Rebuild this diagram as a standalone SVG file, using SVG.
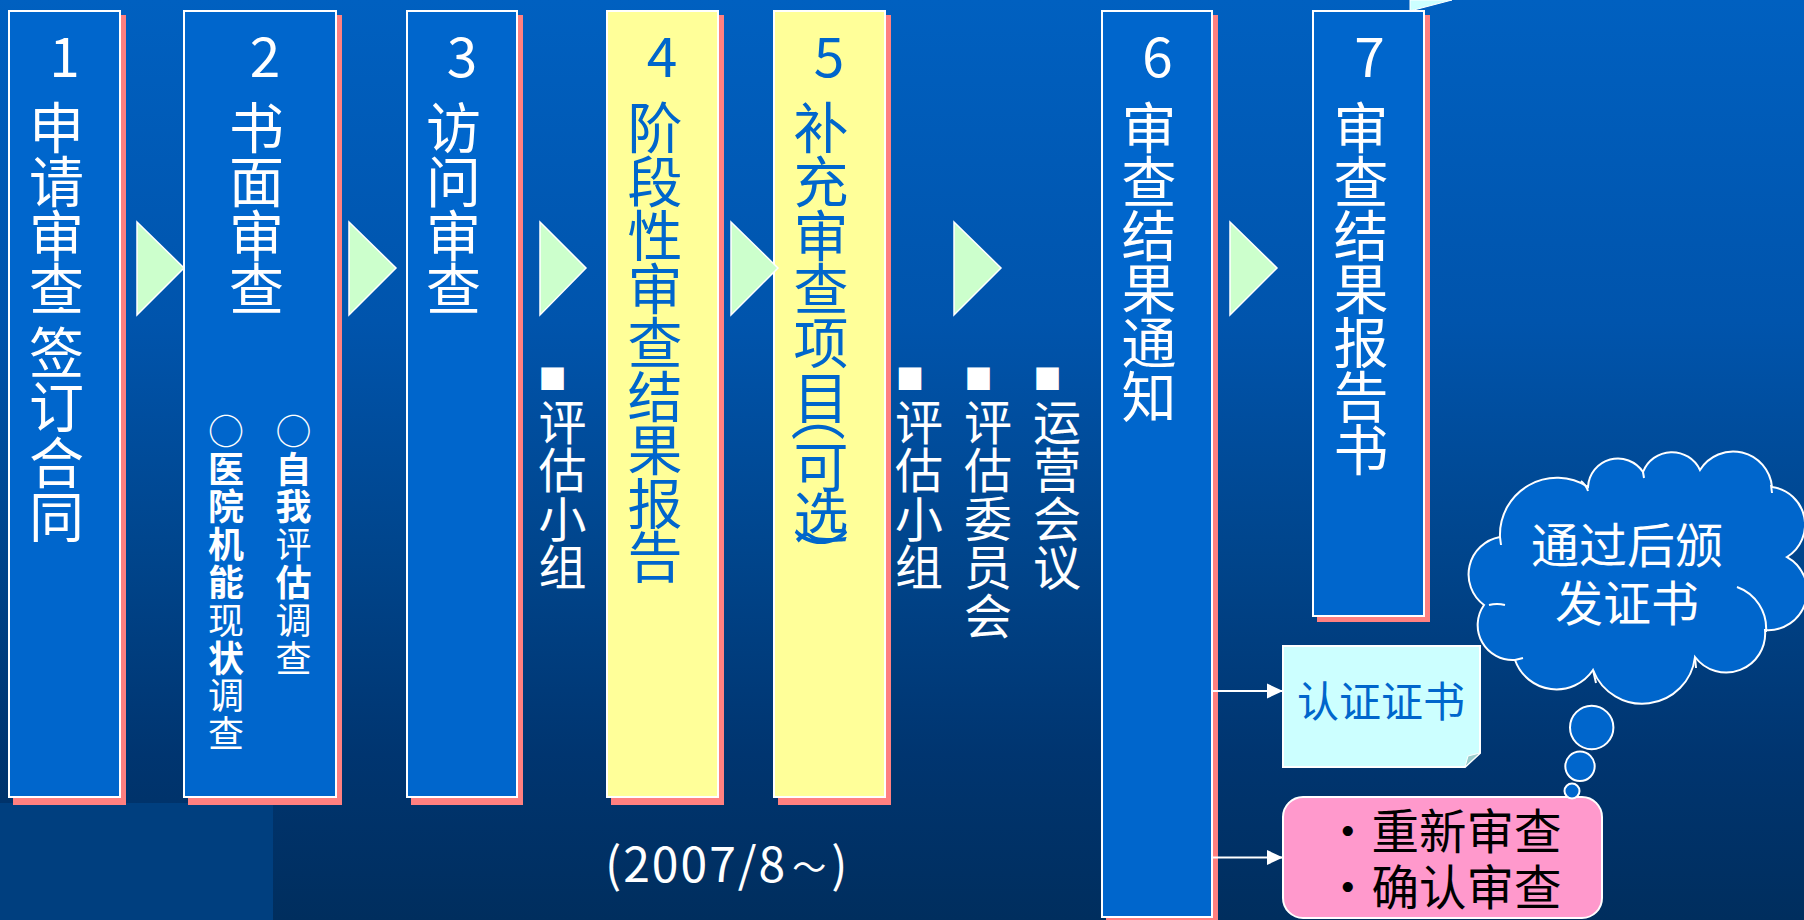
<svg xmlns="http://www.w3.org/2000/svg" width="1804" height="920" viewBox="0 0 1804 920">
<defs>
<linearGradient id="bg" x1="0" y1="0" x2="0" y2="1">
<stop offset="0" stop-color="#0060C0"/>
<stop offset="0.35" stop-color="#0054AC"/>
<stop offset="0.6" stop-color="#00458C"/>
<stop offset="0.82" stop-color="#003570"/>
<stop offset="1" stop-color="#002E5E"/>
</linearGradient>
<marker id="ah" markerWidth="16" markerHeight="16" refX="15" refY="8" orient="auto" markerUnits="userSpaceOnUse">
<path d="M0,0.5 L16,8 L0,15.5 z" fill="#FFFFFF"/>
</marker>
<style>
.box{fill:#0066CC;stroke:#FFFFFF;stroke-width:2}
.ybox{fill:#FFFF99;stroke:#FFFFFF;stroke-width:2}
.sh{fill:#FF8080}
.tri{fill:#CCFFCC;stroke:#FFFFFF;stroke-width:1.5}
text{font-family:"Noto Sans CJK SC","Noto Sans",sans-serif}
.w{fill:#FFFFFF}
.bl{fill:#0066CC}
.k{fill:#000000}
.big{font-size:55px;text-anchor:middle}
.mid{font-size:48px;text-anchor:middle}
.sm{font-size:36px;text-anchor:middle}
.sq{font-size:28px}
.bd{font-weight:700}
.conn{stroke:#FFFFFF;stroke-width:2;fill:none}
.cl{fill:#0066CC;stroke:#FFFFFF;stroke-width:2}
.cli{fill:none;stroke:#FFFFFF;stroke-width:2}
</style>
</defs>

<rect x="0" y="0" width="1804" height="920" fill="url(#bg)"/>
<rect x="0" y="803" width="273" height="117" fill="#003F7F"/>
<polygon points="1410,0 1410,11 1452,0" fill="#CCFFFF" stroke="#FFFFFF" stroke-width="1"/>

<g id="n1">
<rect class="sh" x="13" y="15" width="113" height="790"/>
<rect class="box" x="9" y="11" width="111" height="786"/>
<text class="w big"><tspan x="64.5" y="77">1</tspan></text>
<text class="w big"><tspan x="56.5" y="148">申</tspan><tspan x="56.5" y="202">请</tspan><tspan x="56.5" y="255.5">审</tspan><tspan x="56.5" y="309">查</tspan><tspan x="56.5" y="373">签</tspan><tspan x="56.5" y="426.5">订</tspan><tspan x="56.5" y="483">合</tspan><tspan x="56.5" y="536.5">同</tspan></text>
<text class="w" x="61" y="318" font-size="24" text-anchor="middle">·</text>
</g>

<g id="n2">
<rect class="sh" x="188" y="15" width="154" height="790"/>
<rect class="box" x="184" y="11" width="152" height="786"/>
<text class="w big"><tspan x="265" y="77">2</tspan></text>
<text class="w big"><tspan x="256.5" y="148">书</tspan><tspan x="256.5" y="202">面</tspan><tspan x="256.5" y="255.5">审</tspan><tspan x="256.5" y="309">查</tspan></text>
<text class="w sm"><tspan x="226" y="444.7">○</tspan><tspan class="bd" x="226" y="482.5">医</tspan><tspan class="bd" x="226" y="520.3">院</tspan><tspan class="bd" x="226" y="558.1">机</tspan><tspan class="bd" x="226" y="595.9">能</tspan><tspan x="226" y="633.7">现</tspan><tspan class="bd" x="226" y="671.5">状</tspan><tspan x="226" y="709.3">调</tspan><tspan x="226" y="747.1">查</tspan></text>
<text class="w sm"><tspan x="293.5" y="444.7">○</tspan><tspan class="bd" x="293.5" y="482.5">自</tspan><tspan class="bd" x="293.5" y="520.3">我</tspan><tspan x="293.5" y="558.1">评</tspan><tspan class="bd" x="293.5" y="595.9">估</tspan><tspan x="293.5" y="633.7">调</tspan><tspan x="293.5" y="671.5">查</tspan></text>
</g>

<g id="n3">
<rect class="sh" x="411" y="15" width="112" height="790"/>
<rect class="box" x="407" y="11" width="110" height="786"/>
<text class="w big"><tspan x="462" y="77">3</tspan></text>
<text class="w big"><tspan x="453.5" y="148">访</tspan><tspan x="453.5" y="202">问</tspan><tspan x="453.5" y="255.5">审</tspan><tspan x="453.5" y="309">查</tspan></text>
</g>

<g id="label-eval-group-1">
<text class="w sq" x="538.5" y="390">■</text>
<text class="w mid"><tspan x="562.5" y="440">评</tspan><tspan x="562.5" y="488">估</tspan><tspan x="562.5" y="537">小</tspan><tspan x="562.5" y="585">组</tspan></text>
</g>

<g id="n4">
<rect class="sh" x="611" y="15" width="113" height="790"/>
<rect class="ybox" x="607" y="11" width="111" height="786"/>
<text class="bl big"><tspan x="662" y="77">4</tspan></text>
<text class="bl big"><tspan x="655" y="148">阶</tspan><tspan x="655" y="202">段</tspan><tspan x="655" y="255.5">性</tspan><tspan x="655" y="309">审</tspan><tspan x="655" y="363">查</tspan><tspan x="655" y="416.5">结</tspan><tspan x="655" y="470">果</tspan><tspan x="655" y="523.5">报</tspan><tspan x="655" y="577">告</tspan></text>
</g>

<g id="n5">
<rect class="sh" x="778" y="15" width="113" height="790"/>
<rect class="ybox" x="774" y="11" width="111" height="786"/>
<text class="bl big"><tspan x="829" y="77">5</tspan></text>
<text class="bl big"><tspan x="821" y="148">补</tspan><tspan x="821" y="202">充</tspan><tspan x="821" y="255.5">审</tspan><tspan x="821" y="309">查</tspan><tspan x="821" y="363">项</tspan><tspan x="821" y="418">目</tspan></text>
<text class="bl" font-size="55" text-anchor="middle" dominant-baseline="central" transform="translate(822,414) rotate(90)">（</text>
<text class="bl big"><tspan x="821" y="486.5">可</tspan><tspan x="821" y="536.5">选</tspan><tspan x="821" y="575">︶</tspan></text>
</g>

<g id="label-eval-group-2">
<text class="w sq" x="896" y="390">■</text>
<text class="w mid"><tspan x="919" y="440">评</tspan><tspan x="919" y="488">估</tspan><tspan x="919" y="537">小</tspan><tspan x="919" y="585">组</tspan></text>
</g>
<g id="label-eval-committee">
<text class="w sq" x="964.5" y="390">■</text>
<text class="w mid"><tspan x="988" y="440">评</tspan><tspan x="988" y="488">估</tspan><tspan x="988" y="537">委</tspan><tspan x="988" y="585">员</tspan><tspan x="988" y="634">会</tspan></text>
</g>
<g id="label-operation-meeting">
<text class="w sq" x="1033.5" y="390">■</text>
<text class="w mid"><tspan x="1057" y="440">运</tspan><tspan x="1057" y="488">营</tspan><tspan x="1057" y="537">会</tspan><tspan x="1057" y="585">议</tspan></text>
</g>

<g id="n6">
<rect class="sh" x="1106" y="15" width="112" height="910"/>
<rect class="box" x="1102" y="11" width="110" height="906"/>
<text class="w big"><tspan x="1157.5" y="77">6</tspan></text>
<text class="w big"><tspan x="1149" y="148">审</tspan><tspan x="1149" y="202">查</tspan><tspan x="1149" y="255.5">结</tspan><tspan x="1149" y="309">果</tspan><tspan x="1149" y="363">通</tspan><tspan x="1149" y="416.5">知</tspan></text>
</g>

<g id="n7">
<rect class="sh" x="1317" y="15" width="113" height="607"/>
<rect class="box" x="1313" y="11" width="111" height="605"/>
<text class="w big"><tspan x="1369.5" y="77">7</tspan></text>
<text class="w big"><tspan x="1361" y="148">审</tspan><tspan x="1361" y="202">查</tspan><tspan x="1361" y="255.5">结</tspan><tspan x="1361" y="309">果</tspan><tspan x="1361" y="363">报</tspan><tspan x="1361" y="416.5">告</tspan><tspan x="1361" y="470">书</tspan></text>
</g>

<g id="n-certificate">
<polygon points="1283,646 1480,646 1480,753 1465,767 1283,767" fill="#CCFFFF" stroke="#FFFFFF" stroke-width="2"/>
<polygon points="1480,753 1465,767 1468,756" fill="#99CCCC" stroke="#FFFFFF" stroke-width="1"/>
<text class="bl" x="1381" y="717" font-size="42" text-anchor="middle">认证证书</text>
</g>

<g id="n-review">
<rect x="1283" y="797" width="319" height="121" rx="20" ry="20" fill="#FF99CC" stroke="#FFFFFF" stroke-width="2"/>
<text class="k" font-size="47.5"><tspan x="1324" y="848.5">・重新审查</tspan><tspan x="1324" y="905">・确认审查</tspan></text>
</g>

<g id="n-cloud">
<path class="cl" d="M1500,537 A57,57 0 0 1 1588,487 A30,30 0 0 1 1643,472 A31,31 0 0 1 1700,470 A39,39 0 0 1 1772,487 A38,38 0 0 1 1787,557 A39,39 0 0 1 1765,630 A39,39 0 0 1 1695,657 A53,53 0 0 1 1593,670 A44,44 0 0 1 1515,660 A35,35 0 0 1 1484,605 A38,38 0 0 1 1500,537 Z"/>
<path class="cli" d="M1737,587 A44,44 0 0 1 1766,632 M1581,481 Q1586,485 1588,491 M1643,472 L1644,478 M1771,485 L1772,493 M1500,537 L1501,545 M1489,605 Q1497,603 1505,605 M1515,660 L1523,658 M1593,670 L1596,683 M1695,657 L1696,668"/>
<circle class="cl" cx="1591.7" cy="727.5" r="21.7"/>
<circle class="cl" cx="1580" cy="766.3" r="14.7"/>
<circle class="cl" cx="1572" cy="791" r="7.5"/>
<text class="w mid"><tspan x="1627" y="563">通过后颁</tspan><tspan x="1627" y="621">发证书</tspan></text>
</g>

<g id="connectors">
<g id="flow-arrows">
<polygon class="tri" points="137,222 184,268 137,315"/>
<polygon class="tri" points="349,222 396,268 349,315"/>
<polygon class="tri" points="540,222 586,268 540,315"/>
<polygon class="tri" points="731,222 778,268 731,315"/>
<polygon class="tri" points="954,222 1001,268 954,315"/>
<polygon class="tri" points="1230,222 1277,268 1230,315"/>
</g>
<line class="conn" x1="1213" y1="691" x2="1282" y2="691" marker-end="url(#ah)"/>
<line class="conn" x1="1213" y1="857.5" x2="1282" y2="857.5" marker-end="url(#ah)"/>
</g>

<g id="period-note">
<text class="w" x="605" y="881.5" font-size="48" letter-spacing="2">(2007/8<tspan font-size="34" dx="5" dy="-2">～</tspan><tspan dx="3" dy="2">)</tspan></text>
</g>
</svg>
